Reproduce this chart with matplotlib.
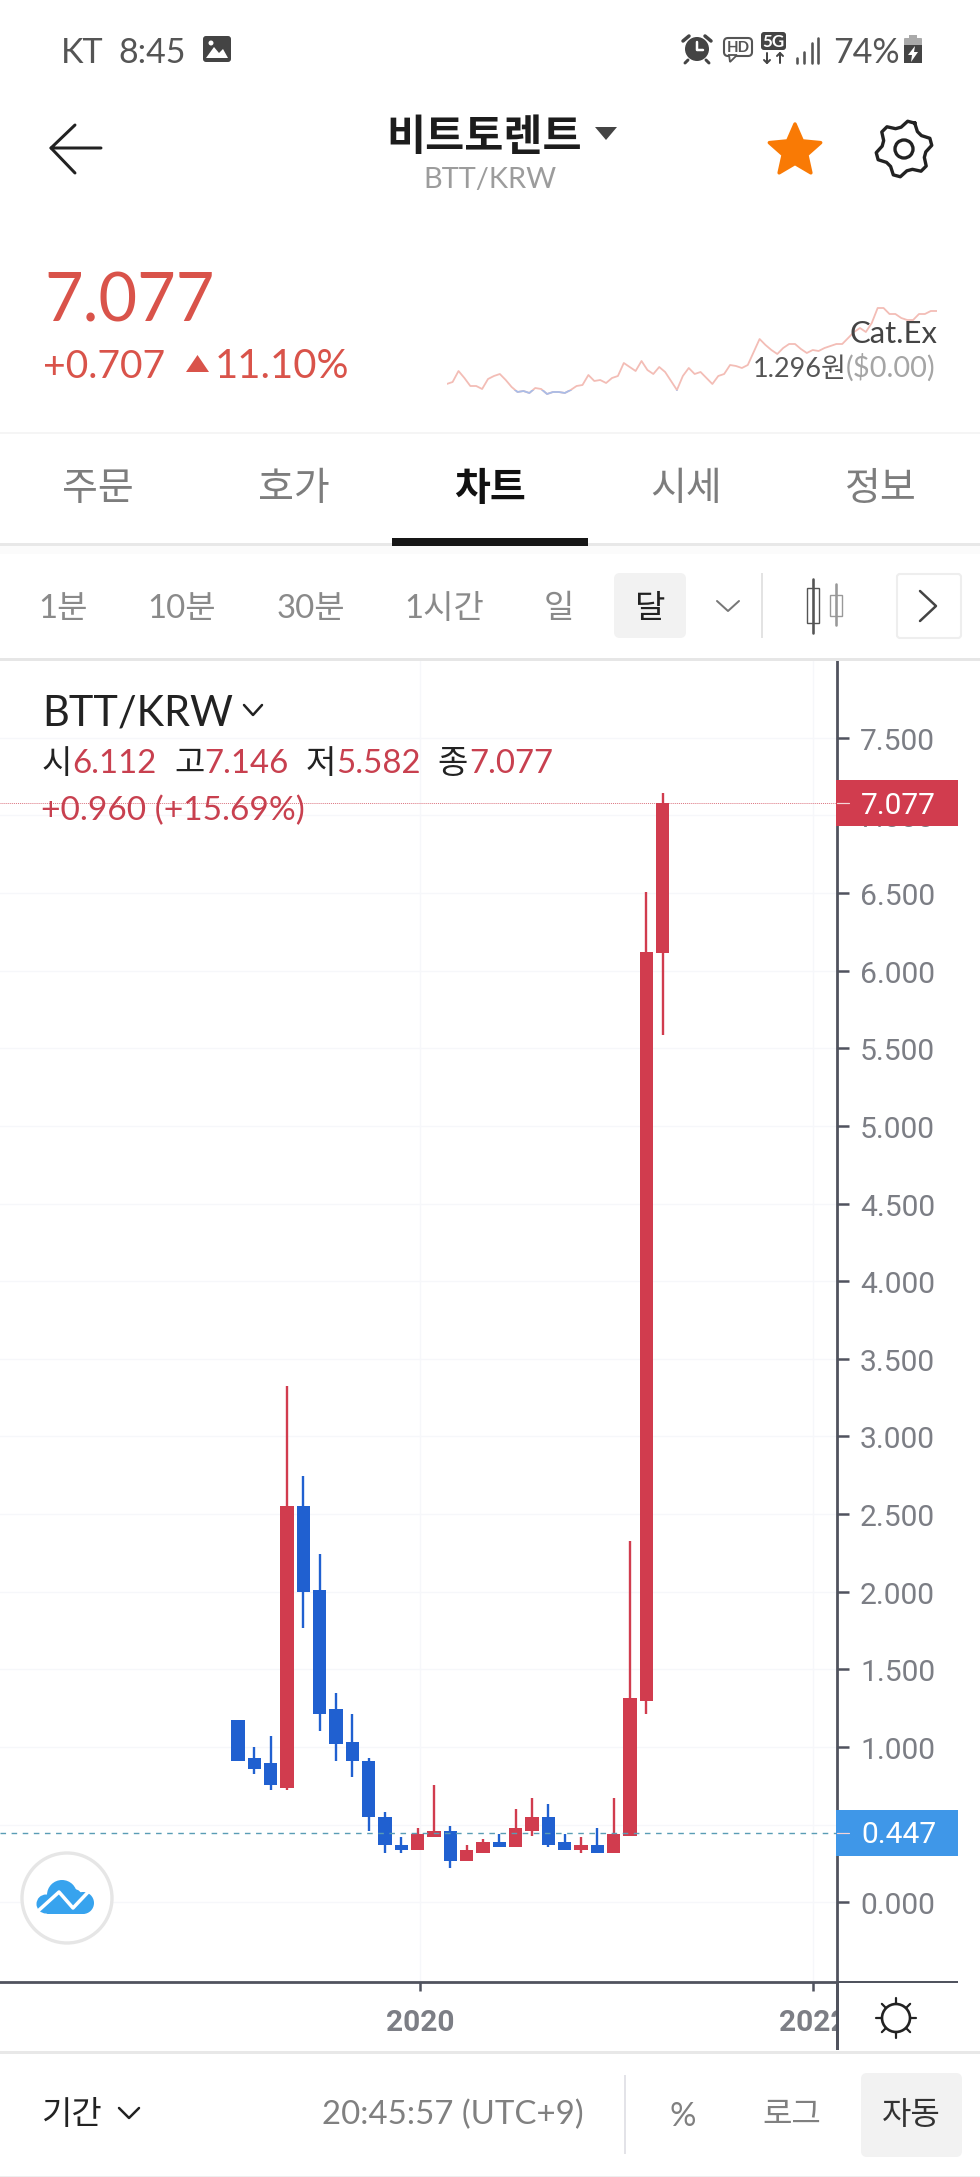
# -*- coding: utf-8 -*-
"""
BTT/KRW monthly candles, phone app screenshot
"""

import numpy as np
import matplotlib
matplotlib.use('Agg')
import matplotlib.pyplot as plt
from matplotlib.patches import Circle, FancyBboxPatch, Polygon, Rectangle
from matplotlib.transforms import Bbox, ScaledTranslation

W, H = 980, 2177

plt.rcParams['font.family'] = ['Lato', 'Noto Sans CJK KR', 'DejaVu Sans']

# monthly candles, open high low close
opens = [1.174, 0.930, 0.896, 0.738, 2.555, 2.013, 1.245, 1.035, 0.913, 0.547, 0.372, 0.337, 0.423,
         0.459, 0.269, 0.320, 0.389, 0.354, 0.459, 0.547, 0.389, 0.337, 0.372, 0.320, 0.425, 1.298, 6.112]
highs = [1.174, 0.999, 1.069, 3.323, 2.747, 2.240, 1.350, 1.211, 0.930, 0.581, 0.423, 0.476, 0.755,
         0.493, 0.372, 0.406, 0.442, 0.598, 0.669, 0.633, 0.442, 0.423, 0.476, 0.669, 2.330, 6.507, 7.146]
lows = [0.913, 0.825, 0.721, 0.721, 1.769, 1.106, 0.913, 0.808, 0.459, 0.320, 0.320, 0.337, 0.423,
        0.224, 0.269, 0.320, 0.354, 0.354, 0.425, 0.354, 0.337, 0.320, 0.320, 0.320, 0.425, 1.211, 5.582]
closes = [0.913, 0.860, 0.757, 2.555, 1.996, 1.211, 1.018, 0.913, 0.547, 0.372, 0.337, 0.442, 0.459,
          0.269, 0.337, 0.389, 0.354, 0.476, 0.547, 0.372, 0.337, 0.372, 0.320, 0.442, 1.315, 6.120, 7.077]

# price axis
price_ticks = [0, 0.5, 1, 1.5, 2, 2.5, 3, 3.5, 4, 4.5, 5, 5.5, 6, 6.5, 7, 7.5]
last_price = 7.077
ref_price = 0.447

# time axis, in months from first candle
year_ticks = [11.15, 35.2]
year_labels = ['2020', '2022']

# small line next to the headline price, heights in arbitrary units
spark_vals = [16, 18, 29, 22, 14, 14, 11, 21, 24, 26, 20, 13, 8, 9, 7, 12, 11, 6, 8, 8, 7, 10, 14, 15,
              25, 19, 20, 17, 22, 24, 37, 33, 29, 39, 30, 26, 33, 28, 19, 10, 24, 32, 26, 28, 22, 16,
              24, 26, 35, 34, 32, 35, 48, 61, 55, 50, 46, 52, 56, 56, 51, 47, 50, 49, 52, 54, 56, 56,
              62, 68, 72, 68, 77, 92, 92, 86, 86, 82, 80, 80, 86, 86, 89, 89]
spark_base = 10

# tab and button labels
tabs = ['주문', '호가', '차트', '시세', '정보']
intervals = ['1분', '10분', '30분', '1시간', '일', '달']

RED = '#d13c4e'
BLUE = '#2060d0'
AXIS = '#50535e'
GRID = '#f6f7fa'
TICK = '#7c7e85'
HEAD = '#d9534a'


def axes_px(x0, y0, x1, y1):
    # axes from screen pixels, y going down
    return fig.add_axes([x0/W, 1 - y1/H, (x1 - x0)/W, (y1 - y0)/H])


def txt(x, y, s, px, color='#333333', ha='left', weight='normal', **kw):
    return ui.text(x, y, s, fontsize=px*0.72, color=color, ha=ha, va='baseline', fontweight=weight, **kw)


def line(xs, ys, color='#222222', px=2.5, **kw):
    ui.plot(xs, ys, c=color, lw=px*0.72, solid_capstyle='round', solid_joinstyle='round', **kw)


def box(x0, y0, x1, y1, color, r=0, edge='none'):
    if r:
        ui.add_patch(FancyBboxPatch((x0 + r, y0 + r), x1 - x0 - 2*r, y1 - y0 - 2*r,
                                    boxstyle='round,pad=%g,rounding_size=%g' % (r, r), fc=color, ec=edge, lw=1.5))
    else:
        ui.add_patch(Rectangle((x0, y0), x1 - x0, y1 - y0, fc=color, ec=edge))


fig = plt.figure(figsize=(W/100, H/100), dpi=100, facecolor='white')

# candle chart
ax = axes_px(0, 660, 837, 1981.7)
ax.set_xlim(-14.57, 36.68)
ax.set_ylim(-0.511, 8.0)
ax.set_facecolor('white')

idx = np.arange(len(opens))
colors = [RED if c >= o else BLUE for o, c in zip(opens, closes)]
bottoms = np.minimum(opens, closes)
heights = np.abs(np.array(closes) - np.array(opens))
ax.vlines(idx, lows, highs, colors=colors, lw=1.7, zorder=3)
ax.bar(idx, heights, bottom=bottoms, width=0.815, color=colors, zorder=4)

ax.axhline(last_price, c='#dc7480', lw=0.7, ls=(0, (1, 1)), zorder=2)
ax.axhline(ref_price, c='#5a9db5', lw=1.0, ls=(0, (4, 4)), zorder=5)

ax.set_yticks(price_ticks)
ax.set_yticklabels(['%.3f' % p for p in price_ticks], family='Roboto', fontsize=21.6, color=TICK)
ax.set_xticks(year_ticks)
ax.set_xticklabels(year_labels, family='Roboto', fontsize=21.5, fontweight='bold', color=TICK)
ax.yaxis.tick_right()
ax.tick_params(axis='y', length=8.6, width=1.8, color=AXIS, pad=8)
ax.tick_params(axis='x', length=6.5, width=1.8, color=AXIS, pad=13)
ax.grid(c=GRID, lw=1.0)
ax.set_axisbelow(True)
for s in ['top', 'left']:
    ax.spines[s].set_visible(False)
for s in ['right', 'bottom']:
    ax.spines[s].set_color(AXIS)
    ax.spines[s].set_linewidth(2.0)

# price labels sit a bit under their ticks
down = ScaledTranslation(0, -1/100, fig.dpi_scale_trans)
for lbl in ax.get_yticklabels():
    lbl.set_transform(lbl.get_transform() + down)

# the 2022 label runs under the price axis
for lbl in ax.get_xticklabels():
    lbl.set_clip_on(True)
    lbl.set_clip_box(Bbox([[0, 0], [836, H]]))

# sparkline
sp = axes_px(446.7, 300, 936.7, 400)
sp.patch.set_alpha(0)
sp.axis('off')
sp.set_xlim(0, len(spark_vals) - 1)
sp.set_ylim(0, 100)
sp_x = np.arange(len(spark_vals))
sp.plot(sp_x, spark_vals, c='#f3bdb6', lw=1.3)
under = sp.plot(sp_x, spark_vals, c='#a9bde8', lw=1.3)[0]
under.set_clip_path(Rectangle((0, 0), len(spark_vals), spark_base, transform=sp.transData))

# everything else of the screen, in screen pixels
ui = fig.add_axes([0, 0, 1, 1], zorder=5)
ui.set_xlim(0, W)
ui.set_ylim(H, 0)
ui.axis('off')
ui.patch.set_alpha(0)

# status bar
txt(61, 63, 'KT', 34, '#555555')
txt(118, 63, '8:45', 34, '#555555')
box(203, 36, 231, 62, '#444444', r=3)
ui.add_patch(Polygon([[206, 58], [214, 47], [219, 53], [223, 49], [228, 58]], fc='white', ec='none'))
ui.add_patch(Circle((211, 43), 2.5, fc='white', ec='none'))

ui.add_patch(Circle((697, 49), 12, fc='#444444', ec='none'))
line([697, 697, 703], [42, 50, 50], 'white', 2.5)
line([683, 689], [41, 36], '#444444', 3.5)
line([711, 705], [41, 36], '#444444', 3.5)
line([688, 685], [60, 63], '#444444', 3)
line([706, 709], [60, 63], '#444444', 3)
box(724, 38, 752, 56, 'white', r=4, edge='#555555')
ui.add_patch(Polygon([[729, 55], [730, 62], [737, 55]], fc='white', ec='#555555', lw=1.3))
txt(738, 52, 'HD', 15, '#555555', ha='center', weight='bold')
box(761, 32, 786, 50, '#444444', r=3)
txt(773.5, 47, '5G', 17, 'white', ha='center', weight='bold')
line([767, 767], [53, 63], '#444444', 2)
line([764, 767, 770], [60, 63, 60], '#444444', 2)
line([780, 780], [53, 63], '#444444', 2)
line([777, 780, 783], [56, 53, 56], '#444444', 2)
for bx, bt in zip([797, 804, 812, 818], [58, 52, 43, 38]):
    line([bx, bx], [bt, 63], '#555555', 2.6)
txt(833, 63, '74%', 34, '#555555')
box(904, 38, 922, 46, '#aaaaaa', r=1)
box(909, 35, 917, 39, '#aaaaaa')
box(904, 45, 922, 63, '#444444')
ui.add_patch(Polygon([[915, 46], [908, 55], [912, 55], [911, 62], [918, 52], [914, 52]], fc='white', ec='none'))

# title row
line([101, 51, 75], [148, 148, 125], '#222222', 3)
line([51, 75], [148, 173], '#222222', 3)
txt(484, 150, '비트토렌트', 42.5, '#1c1c1c', ha='center', weight='bold')
ui.add_patch(Polygon([[595, 127], [617, 127], [606, 140]], fc='#444444', ec='none'))
txt(490, 188, 'BTT/KRW', 29, '#9c9c9c', ha='center')

ang = np.pi/2 + np.arange(10)*np.pi/5
rad = np.tile([27, 12.5], 5)
ui.add_patch(Polygon(np.c_[795 + rad*np.cos(ang), 151 - rad*np.sin(ang)], fc='#f97a05', ec='#f97a05',
                     lw=2.5, joinstyle='round'))

ang = np.linspace(0, 2*np.pi, 25)
rad = np.tile([28, 28, 22, 22], 6)
rad = np.append(rad, rad[0])
gear_x = 904 + rad*np.cos(ang + np.pi/2 - np.pi/8)
gear_y = 149 - rad*np.sin(ang + np.pi/2 - np.pi/8)
ui.plot(gear_x, gear_y, c='#222222', lw=2.4, solid_joinstyle='round')
ui.add_patch(Circle((904, 149), 9, fc='none', ec='#222222', lw=2.4))

# headline price
txt(44, 322, '7.077', 66.5, HEAD)
txt(43, 378, '+0.707', 39, HEAD)
ui.add_patch(Polygon([[186, 372], [209, 372], [197.5, 355]], fc=HEAD, ec='none'))
txt(215, 378, '11.10%', 40, HEAD)
txt(937, 343, 'Cat.Ex', 31, '#444444', ha='right')
txt(753, 377, '1.296원', 27, '#555555')
txt(935, 377, '($0.00)', 29, '#a5a5a5', ha='right')
box(0, 432, W, 434, '#f5f5f5')

# tabs
for tx, tab in zip([98, 294, 490, 686, 881], tabs):
    on = tab == '차트'
    txt(tx, 500, tab, 39, '#111111' if on else '#7d7d7d', ha='center', weight='bold' if on else 'normal')
box(0, 543, W, 546, '#e8e8e8')
box(392, 538, 588, 546, '#161616')
box(0, 546, W, 554, '#fbfbfb')

# interval row
box(614, 573, 686, 638, '#f2f2f2', r=6)
for tx, label in zip([63, 182, 311, 444, 559, 650], intervals):
    txt(tx, 618, label, 33, '#222222' if label == '달' else '#8a8a8a', ha='center')
line([717, 728, 739], [601, 611, 601], '#777777', 2)
box(761, 573, 763, 638, '#e3e3e3')
line([813, 813], [579, 633], '#555555', 2.6)
box(807, 588, 819, 623, 'white', edge='#555555')
line([836, 836], [584, 625], '#999999', 2.6)
box(830, 595, 842, 616, 'white', edge='#999999')
box(897, 574, 961, 638, 'white', r=3, edge='#eeeeee')
line([920, 936, 920], [591, 606, 621], '#444444', 2.5)
box(0, 658, W, 660.5, '#e6e6e6')

# legend of the chart
txt(42, 725, 'BTT/KRW', 41.5, '#222222')
line([244, 253, 262], [705, 715, 705], '#222222', 2.5)
for tx, label, col in [(42, '시', '#222222'), (72, '6.112', '#c8404f'), (174, '고', '#222222'),
                       (204, '7.146', '#c8404f'), (306, '저', '#222222'), (336, '5.582', '#c8404f'),
                       (437, '종', '#222222'), (469, '7.077', '#c8404f')]:
    txt(tx, 773, label, 33, col)
txt(41, 820, '+0.960 (+15.69%)', 33.5, '#c8404f')


# price tags, placed from the axis so that they sit on their values
def price_tag(val, color):
    yc = H - ax.transData.transform((0, val))[1]
    box(836, yc - 23, 958, yc + 23, color)
    line([837, 849], [yc, yc], '#f5d5d8', 1.2)
    txt(861, yc + 10.5, '%.3f' % val, 30, 'white', family='Roboto')


price_tag(last_price, RED)
price_tag(ref_price, '#3f97e8')

# axis parts outside of the plot box
box(837, 1980.5, 958, 1983, AXIS)
box(836, 1982, 838.5, 2050, AXIS)
ang = np.arange(8)*np.pi/4
ui.add_patch(Circle((896, 2018), 14, fc='none', ec='#222222', lw=1.9))
for a in ang:
    line([896 + 14*np.cos(a), 896 + 20*np.cos(a)], [2018 + 14*np.sin(a), 2018 + 20*np.sin(a)], '#222222', 2.2)

# logo button
ui.add_patch(Circle((67, 1898), 45, fc='white', ec='#e6e6e6', lw=2.4))
for cx, cy, cr in [(62, 1895, 15), (46, 1904, 9.5), (83, 1903, 11), (74, 1897, 8)]:
    ui.add_patch(Circle((cx, cy), cr, fc='#37a3ee', ec='none'))
box(46, 1900, 85, 1914, '#37a3ee', r=2)
line([38, 59, 73, 91], [1911, 1892, 1908, 1889], 'white', 3.5)

# bottom bar
box(0, 2051, W, 2053.5, '#e8e8e8')
txt(41, 2124, '기간', 33, '#222222')
line([119, 129, 139], [2108, 2118, 2108], '#222222', 2.5)
txt(322, 2124, '20:45:57 (UTC+9)', 33, '#808080')
box(624, 2075, 626, 2154, '#e3e3e8')
txt(683, 2126, '%', 33, '#808080', ha='center')
txt(792, 2124, '로그', 32, '#808080', ha='center')
box(861, 2073, 962, 2157, '#f2f2f2', r=6)
txt(911, 2124, '자동', 32, '#333333', ha='center')
box(0, 2175.5, W, H, '#eeeeee')

plt.savefig('out.png', dpi=100)
